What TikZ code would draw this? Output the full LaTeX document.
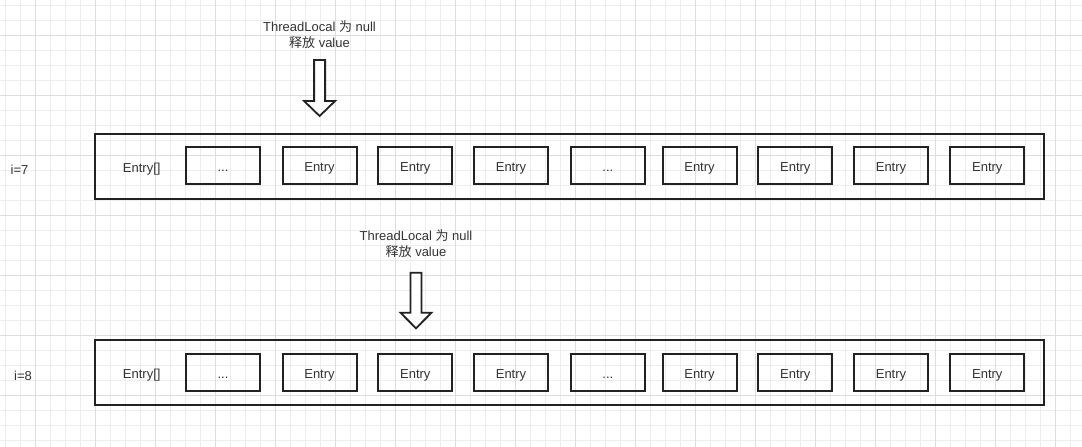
\documentclass[tikz,border=0pt]{standalone}
\usepackage{fontspec}
\setmainfont{Liberation Sans}
\newfontfamily\cjk{Noto Sans CJK SC}
\definecolor{ink}{HTML}{222222}
\definecolor{txt}{HTML}{333333}
\definecolor{gridminor}{HTML}{EDEDED}
\definecolor{gridmajor}{HTML}{DEDEDE}
\newcommand\gapmark{...}
\begin{document}
\begin{tikzpicture}[x=1pt,y=-1pt,
  gridline/.style={draw=gridminor,line width=1pt},
  gridbold/.style={draw=gridmajor,line width=1pt},
  label/.style={text=txt,font=\fontsize{13}{16}\selectfont,inner sep=0pt},
  word/.style={label,text height=9.3pt,text depth=0pt,yshift=-1.2pt},
  arraybox/.style={draw=ink,line width=2pt,minimum width=949pt,minimum height=65pt,inner sep=0pt},
  cell/.style={draw=ink,line width=2pt,minimum width=74pt,minimum height=37pt,inner sep=0pt},
  celltext/.style={word},
  hollow/.style={draw=ink,line width=1.8pt,line join=miter,fill=white}]
\useasboundingbox (0,0) rectangle (1082,447);
\fill[white] (0,0) rectangle (1082,447);
% background grid
\foreach \i in {0,...,71} \draw[gridline] ({5.7+15*\i},0) -- ({5.7+15*\i},447);
\foreach \i in {0,...,29} \draw[gridline] (0,{5.7+15*\i}) -- (1082,{5.7+15*\i});
\foreach \i in {0,...,17} \draw[gridbold] ({35.7+60*\i},0) -- ({35.7+60*\i},447);
\foreach \i in {0,...,6} \draw[gridbold] (0,{35.7+60*\i}) -- (1082,{35.7+60*\i});

% first row, i=7
\node[label] (note1) at (319.5,34.6) [align=center] {ThreadLocal {\cjk 为} null\\{\cjk 释放} value};
\coordinate (arr1) at (319.6,60);
\draw[hollow] (arr1) ++(-5.5,0) -- ++(0,41) -- ++(-10,0) -- ++(15.5,15) -- ++(15.5,-15) -- ++(-10,0) -- ++(0,-41) -- cycle;
\node[word] (idx1) at (19.5,168.3) {i=7};
\node[arraybox] (tab1) at (569.5,166.3) {};
\node[word] (name1) at (141.7,166.7) {Entry[]};
\foreach \x/\t [count=\k] in {223/\gapmark,319.5/Entry,415.3/Entry,511/Entry,607.8/\gapmark,699.5/Entry,795.3/Entry,891/Entry,987.3/Entry}
  {\node[cell] (r1c\k) at (\x,165.8) {};
   \node[celltext] (r1t\k) at (r1c\k.center) {\t};}

% second row, i=8
\node[label] (note2) at (416,243.8) [align=center] {ThreadLocal {\cjk 为} null\\{\cjk 释放} value};
\coordinate (arr2) at (416,272.7);
\draw[hollow] (arr2) ++(-5.5,0) -- ++(0,40) -- ++(-10,0) -- ++(15.5,15.6) -- ++(15.5,-15.6) -- ++(-10,0) -- ++(0,-40) -- cycle;
\node[word] (idx2) at (23,374.3) {i=8};
\node[arraybox] (tab2) at (569.5,372.3) {};
\node[word] (name2) at (141.7,373) {Entry[]};
\foreach \x/\t [count=\k] in {223/\gapmark,319.5/Entry,415.3/Entry,511/Entry,607.8/\gapmark,699.5/Entry,795.3/Entry,891/Entry,987.3/Entry}
  {\node[cell] (r2c\k) at (\x,372.5) {};
   \node[celltext] (r2t\k) at (r2c\k.center) {\t};}
\end{tikzpicture}
\end{document}
